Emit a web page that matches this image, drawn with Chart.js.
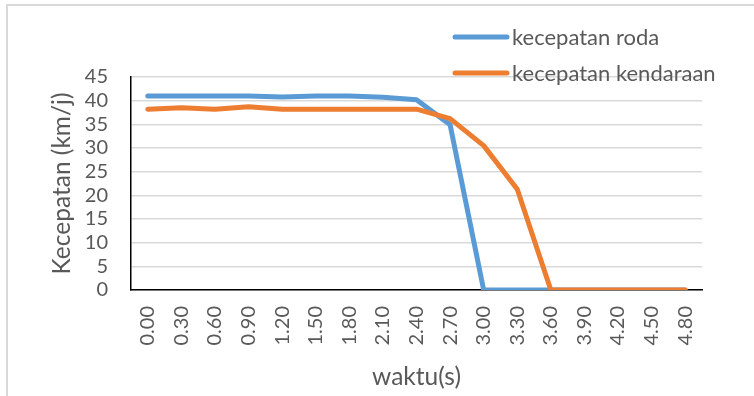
<!DOCTYPE html>
<html>
<head>
<meta charset="utf-8">
<script src="https://cdn.jsdelivr.net/npm/chart.js@4/dist/chart.umd.min.js"></script>
<style>
  html, body { margin: 0; padding: 0; background: #ffffff; }
  #wrap { position: relative; width: 754px; height: 396px; }
</style>
</head>
<body>
<div id="wrap"><canvas id="c" width="754" height="396"></canvas></div>
<script>
// Time stamps (s) along the horizontal axis
const waktu = ['0.00','0.30','0.60','0.90','1.20','1.50','1.80','2.10','2.40','2.70',
               '3.00','3.30','3.60','3.90','4.20','4.50','4.80'];
// Wheel speed (km/j)
const kecepatanRoda = [41.0, 41.0, 41.0, 41.0, 40.8, 41.0, 41.0, 40.7, 40.2, 34.9,
                       0, 0, 0, 0, 0, 0, 0];
// Vehicle speed (km/j)
const kecepatanKendaraan = [38.2, 38.5, 38.2, 38.7, 38.2, 38.2, 38.2, 38.2, 38.2, 36.2,
                            30.5, 21.3, 0, 0, 0, 0, 0];
// Vertical axis range
const yTicks = { min: 0, max: 45, step: 5 };

const FONT = 'Lato, "Open Sans", sans-serif';
const TEXT = '#595959';

// White page with the light grey frame around the chart object
const framePlugin = {
  id: 'frame',
  beforeDraw(chart) {
    const ctx = chart.ctx;
    ctx.save();
    ctx.fillStyle = '#ffffff';
    ctx.fillRect(0, 0, chart.width, chart.height);
    ctx.strokeStyle = '#d9d9d9';
    ctx.lineWidth = 2;
    ctx.beginPath();
    ctx.moveTo(7, chart.height + 5);
    ctx.lineTo(7, 5);
    ctx.lineTo(chart.width + 5, 5);
    ctx.stroke();
    ctx.restore();
  }
};

// Stacked legend in the upper right corner
const legendPlugin = {
  id: 'stackedLegend',
  afterDraw(chart) {
    const ctx = chart.ctx;
    const rows = [37, 73];
    ctx.save();
    ctx.font = '22px ' + FONT;
    ctx.textBaseline = 'middle';
    ctx.textAlign = 'left';
    chart.data.datasets.forEach((ds, i) => {
      const y = rows[i];
      ctx.strokeStyle = ds.borderColor;
      ctx.lineWidth = 5;
      ctx.lineCap = 'round';
      ctx.beginPath();
      ctx.moveTo(455, y);
      ctx.lineTo(507, y);
      ctx.stroke();
      ctx.fillStyle = TEXT;
      ctx.fillText(ds.label, 512, y + 1);
    });
    ctx.restore();
  }
};

new Chart(document.getElementById('c'), {
  type: 'line',
  data: {
    labels: waktu,
    datasets: [
      {
        label: 'kecepatan roda',
        data: kecepatanRoda,
        borderColor: '#5b9bd5',
        backgroundColor: '#5b9bd5',
        borderWidth: 5,
        pointRadius: 0,
        tension: 0,
        borderCapStyle: 'round',
        borderJoinStyle: 'round',
        order: 1
      },
      {
        label: 'kecepatan kendaraan',
        data: kecepatanKendaraan,
        borderColor: '#ed7d31',
        backgroundColor: '#ed7d31',
        borderWidth: 5,
        pointRadius: 0,
        tension: 0,
        borderCapStyle: 'round',
        borderJoinStyle: 'round',
        order: 0
      }
    ]
  },
  options: {
    responsive: false,
    animation: false,
    layout: { padding: { left: 0, top: 77, right: 52, bottom: 0 } },
    plugins: {
      legend: { display: false },
      tooltip: { enabled: false }
    },
    scales: {
      x: {
        offset: true,
        grid: { display: false, drawTicks: false },
        border: { display: true, color: '#000000', width: 1.5 },
        ticks: {
          autoSkip: false,
          minRotation: 90,
          maxRotation: 90,
          padding: 16,
          color: TEXT,
          font: { family: FONT, size: 20 }
        },
        title: {
          display: true,
          text: 'waktu(s)',
          color: TEXT,
          font: { family: FONT, size: 24.5 },
          padding: { top: 0, bottom: 4 }
        },
        afterFit(scale) { scale.height = 106; }
      },
      y: {
        min: yTicks.min,
        max: yTicks.max,
        grid: { color: '#d9d9d9', lineWidth: 1.5, drawTicks: false },
        border: { display: true, color: '#000000', width: 1.5 },
        ticks: {
          autoSkip: false,
          stepSize: yTicks.step,
          padding: 23,
          color: TEXT,
          font: { family: FONT, size: 20 }
        },
        title: {
          display: true,
          text: 'Kecepatan (km/j)',
          color: TEXT,
          font: { family: FONT, size: 24.5 },
          padding: { top: 47, bottom: 0 }
        },
        afterFit(scale) { scale.width = 131; }
      }
    }
  },
  plugins: [framePlugin, legendPlugin]
});
</script>
</body>
</html>
